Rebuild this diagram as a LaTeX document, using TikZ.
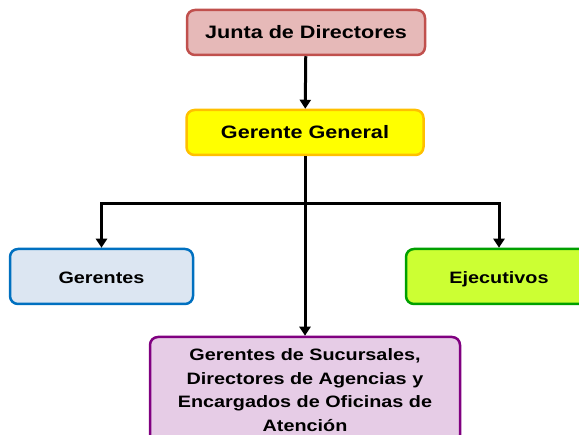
\documentclass[tikz,border=0pt]{standalone}
\usepackage{fontspec}
\setmainfont{Liberation Sans}[FakeStretch=1.2]
\usetikzlibrary{arrows.meta}
\definecolor{juntafill}{HTML}{E6B9B8}
\definecolor{juntaline}{HTML}{C0504D}
\definecolor{gerfill}{HTML}{FFFF00}
\definecolor{gerline}{HTML}{FFC000}
\definecolor{gtsfill}{HTML}{DCE6F2}
\definecolor{gtsline}{HTML}{0070C0}
\definecolor{ejefill}{HTML}{CCFF33}
\definecolor{ejeline}{HTML}{00A000}
\definecolor{sucfill}{HTML}{E6CCE6}
\definecolor{sucline}{HTML}{800080}
\begin{document}
\begin{tikzpicture}[x=1pt, y=-1pt, line width=3pt, >={Triangle[length=9pt,width=11pt]},
  main/.style = {draw, rounded corners=8pt, line width=2.5pt, align=center, font=\bfseries\fontsize{16.5}{23.5}\selectfont, inner sep=0pt},
  top/.style = {main, font=\bfseries\fontsize{18}{23.5}\selectfont},
  side/.style = {main, text height=16pt, text depth=1pt, minimum height=55pt}]
  \clip (0,0) rectangle (579,435);
  \node[top, fill=juntafill, draw=juntaline, minimum width=238pt, minimum height=45pt] (1) at (306,32.5) {Junta de Directores};
  \node[top, fill=gerfill, draw=gerline, minimum width=237pt, minimum height=45pt] (2) at (305,132.5) {Gerente General};
  \node[side, fill=gtsfill, draw=gtsline, minimum width=183pt] (3) at (101.5,276.5) {Gerentes};
  \node[side, fill=ejefill, draw=ejeline, minimum width=186pt] (4) at (499,276.5) {Ejecutivos};
  \node[main, fill=sucfill, draw=sucline, minimum width=310pt, minimum height=106pt] (5) at (305,390) {Gerentes de Sucursales,\\Directores de Agencias y\\Encargados de Oficinas de\\Atenci\'on};
  \coordinate (b) at (305,204);
  \draw[->] (1) -- (2);
  \draw[->] (2) -- (5);
  \draw[->] (b) -| (3);
  \draw[->] (b) -| (4);
\end{tikzpicture}
\end{document}
